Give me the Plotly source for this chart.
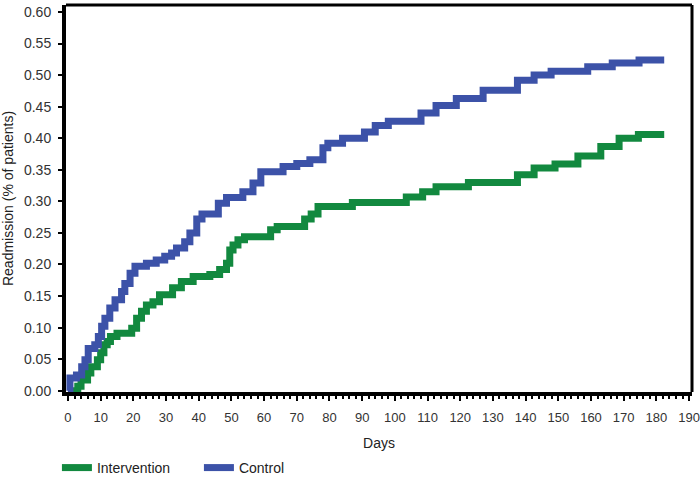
import plotly.graph_objects as go

# Control (blue) step curve
control_days = [0, 0.6, 2.6, 4.2, 5.2, 6.2, 8.2, 9.3, 10.3, 11.3, 12.8, 14.4, 16.4, 17.4, 19, 20.5,
                24, 27, 29.6, 31.7, 33.2, 35.7, 37.3, 39.4, 41, 46, 48.5, 53.5, 56.6, 59, 65.8,
                70, 74, 78, 79.5, 84, 90.7, 94, 98, 108, 112.6, 118.8, 127, 137.5, 142.6, 147.8,
                159, 166.5, 174.7, 182.4]
control_vals = [0, 0.02, 0.025, 0.038, 0.049, 0.067, 0.073, 0.086, 0.102, 0.115, 0.131, 0.144,
                0.157, 0.17, 0.186, 0.197, 0.202, 0.207, 0.213, 0.218, 0.226, 0.236, 0.25, 0.272,
                0.28, 0.297, 0.306, 0.315, 0.329, 0.347, 0.355, 0.36, 0.366, 0.385, 0.392, 0.4,
                0.41, 0.42, 0.427, 0.44, 0.452, 0.463, 0.476, 0.492, 0.5, 0.506, 0.513, 0.519,
                0.524, 0.524]

# Intervention (green) step curve
interv_days = [0, 3, 4, 6, 7, 9, 10, 11, 12, 13, 15, 19.5, 21, 22.5, 24, 26, 28, 32, 34.7, 38.3,
               43.4, 46.4, 48.5, 49.5, 50.5, 52, 54, 62, 64, 72.4, 74.4, 76.5, 87, 103.5, 108.5,
               112.6, 122.5, 137.5, 142.6, 149, 156, 163, 168.6, 174.5, 182.4]
interv_vals = [0, 0.007, 0.017, 0.028, 0.038, 0.049, 0.06, 0.073, 0.078, 0.086, 0.091, 0.099,
               0.115, 0.126, 0.136, 0.141, 0.152, 0.163, 0.173, 0.181, 0.184, 0.192, 0.202, 0.223,
               0.231, 0.239, 0.244, 0.255, 0.26, 0.272, 0.28, 0.292, 0.298, 0.307, 0.315, 0.323,
               0.33, 0.342, 0.353, 0.359, 0.372, 0.387, 0.4, 0.406, 0.406]

x_ticks = list(range(0, 191, 10))
y_ticks = [round(0.05 * i, 2) for i in range(13)]

GREEN = "#12893f"
BLUE = "#3c52a8"
FONT = "Liberation Sans, Arial, sans-serif"

fig = go.Figure()
fig.add_trace(go.Scatter(x=interv_days, y=interv_vals, mode="lines", name="Intervention",
                         line=dict(color=GREEN, width=7, shape="hv")))
fig.add_trace(go.Scatter(x=control_days, y=control_vals, mode="lines", name="Control",
                         line=dict(color=BLUE, width=7, shape="hv")))

fig.update_layout(
    width=700, height=477,
    margin=dict(l=66, r=8, t=5, b=85, autoexpand=False),
    paper_bgcolor="white", plot_bgcolor="white",
    font=dict(family=FONT, size=14, color="#222"),
    showlegend=True,
    legend=dict(orientation="h", x=-0.0145, xanchor="left", y=-0.155, yanchor="top",
                font=dict(size=14, color="#222"), itemwidth=30, traceorder="normal",
                entrywidth=97, entrywidthmode="pixels"),
    xaxis=dict(range=[-0.6, 190.9], tickvals=x_ticks, ticks="outside", ticklen=5, tickwidth=2,
               tickcolor="black", showline=True, linewidth=4, linecolor="black",
               showgrid=False, zeroline=False, tickfont=dict(size=13, color="#333"),
               ticklabelstandoff=5, automargin=False,
               minor=dict(dtick=2, ticks="outside", ticklen=3, tickwidth=1.5, tickcolor="black"),
               title=dict(text="Days", font=dict(size=14, color="#222"), standoff=16)),
    yaxis=dict(range=[-0.002, 0.611], tickvals=y_ticks, tickformat=".2f", ticks="outside",
               ticklen=4, tickwidth=2, tickcolor="black", showline=True, linewidth=4,
               linecolor="black", showgrid=False, zeroline=False, automargin=False,
               tickfont=dict(size=14, color="#333"), ticklabelstandoff=4,
               title=dict(text="Readmission (% of patients)", font=dict(size=14, color="#222"),
                          standoff=8)),
    shapes=[
        dict(type="line", xref="paper", yref="paper", x0=0, x1=1, y0=1, y1=1,
             line=dict(color="black", width=3)),
        dict(type="line", xref="paper", yref="paper", x0=1, x1=1, y0=0, y1=1,
             line=dict(color="black", width=3)),
    ],
)

fig.write_html("out.html", config={"displayModeBar": False},
               post_script="document.body.style.margin='0px';")
